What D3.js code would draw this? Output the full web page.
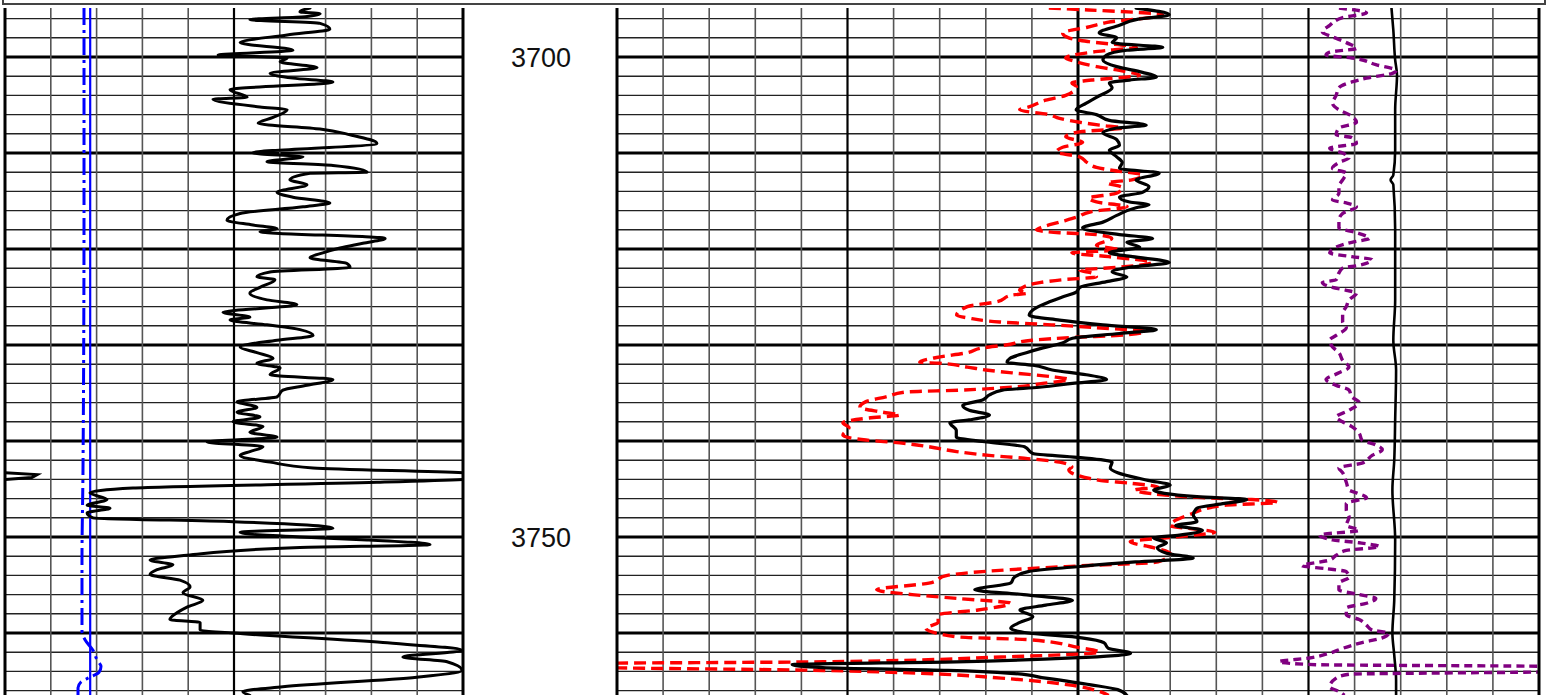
<!DOCTYPE html>
<html>
<head>
<meta charset="utf-8">
<script src="https://cdn.jsdelivr.net/npm/d3@7"></script>
<style>
  html, body { margin: 0; padding: 0; background: #fff; }
  svg { display: block; }
</style>
</head>
<body>
<svg id="log"></svg>
<script>
// Depth labels shown in the depth track
const depthLabels = [3700, 3750];

// Track 1: gamma ray (API), caliper and bit size (in)
const grDepth = [3694.9,3695.3,3695.5,3695.8,3696.1,3696.5,3697.1,3697.7,3698.5,3699.3,3699.8,3700.1,3700.5,3701.1,3701.7,3702.2,3702.6,3703.4,3704.2,3704.4,3705.2,3705.5,3706.3,3706.9,3707.5,3708.1,3709.0,3710.0,3710.4,3710.9,3711.3,3712.0,3712.1,3712.8,3713.3,3714.1,3714.6,3715.2,3715.6,3716.3,3717.0,3717.5,3717.9,3718.2,3718.9,3719.4,3719.9,3720.4,3720.9,3721.5,3721.9,3722.4,3722.9,3723.2,3724.0,3724.6,3725.3,3725.8,3726.6,3727.1,3727.4,3727.9,3728.4,3729.0,3729.5,3730.2,3730.8,3731.4,3731.9,3732.4,3733.1,3733.6,3734.2,3734.7,3735.4,3735.9,3736.5,3737.0,3737.5,3738.0,3738.5,3739.1,3739.6,3740.1,3740.6,3741.1,3741.5,3742.2,3742.8,3743.3,3743.5,3743.8,3744.0,3744.3,3744.9,3745.4,3746.1,3746.7,3747.0,3747.5,3748.0,3748.4,3749.1,3749.5,3750.0,3750.3,3750.8,3751.1,3751.9,3752.4,3752.9,3753.4,3753.9,3754.5,3755.2,3755.8,3756.6,3757.3,3757.9,3758.6,3758.9,3759.7,3760.0,3761.0,3761.8,3762.5,3763.0,3763.9,3764.6,3765.6,3766.1,3766.5];
const grValue = [99.9,96.6,103.2,98.3,80.2,103.2,106.4,92.4,77.0,94.3,69.8,92.4,90.1,102.2,86.8,94.3,107.4,73.7,79.3,68.1,83.5,92.4,87.8,82.9,103.2,113.0,121.8,81.2,97.6,85.8,107.4,118.6,99.9,93.3,98.9,89.1,94.3,106.4,97.6,77.0,72.7,81.2,89.1,83.5,124.5,117.2,109.7,104.1,99.9,112.0,113.0,86.8,82.5,88.4,83.5,80.2,85.8,95.6,71.4,80.2,73.7,85.8,96.6,100.9,89.1,77.0,82.5,87.8,82.5,90.1,86.8,107.4,98.9,91.0,89.1,76.0,82.5,76.0,83.5,74.7,84.5,80.2,89.1,66.2,84.5,80.2,77.0,86.8,100.9,150.0,160.5,158.8,150.0,121.8,41.9,27.8,33.4,26.9,34.4,26.9,28.8,74.7,107.4,77.0,96.6,118.6,139.2,96.6,59.6,47.5,55.0,49.8,47.5,57.3,60.6,58.3,64.8,59.6,56.3,54.0,63.9,63.9,74.7,123.8,149.7,130.3,144.8,149.7,134.9,91.0,77.9,80.2];

const caliDepth = [3694.9,3714.9,3743.0,3752.4,3759.9,3760.7,3761.8,3762.8,3763.5,3764.1,3764.6,3765.1,3765.7,3766.5];
const caliValue = [7.725,7.725,7.703,7.681,7.681,7.747,7.921,8.009,8.096,8.052,7.856,7.659,7.594,7.594];

const bsDepth = [3694.9, 3766.5];
const bsValue = [7.86, 7.86];

// Tracks 2-3: bulk density (g/cc), neutron porosity (v/v), sonic (us/ft), density correction
const rhobDepth = [3694.9,3695.6,3696.1,3696.7,3697.5,3698.0,3698.5,3699.0,3699.3,3699.8,3700.3,3701.0,3701.6,3702.1,3702.4,3702.7,3703.2,3704.2,3704.8,3705.5,3706.0,3706.6,3707.1,3707.4,3707.9,3708.6,3709.2,3709.7,3710.4,3711.0,3711.6,3712.1,3712.8,3713.5,3714.1,3714.6,3715.1,3715.4,3715.7,3716.5,3717.2,3717.8,3718.5,3718.9,3719.3,3719.8,3720.4,3720.8,3721.4,3721.9,3722.4,3722.9,3723.4,3724.0,3724.5,3725.0,3725.5,3726.1,3726.9,3727.4,3727.9,3728.4,3728.8,3729.3,3729.8,3730.3,3730.8,3731.4,3731.8,3732.1,3732.6,3733.1,3733.6,3734.0,3734.4,3734.7,3735.2,3735.7,3736.3,3736.8,3737.3,3737.8,3738.1,3738.9,3739.6,3740.1,3740.6,3741.3,3741.7,3742.2,3742.8,3743.3,3744.1,3744.6,3745.1,3745.8,3746.1,3746.5,3747.0,3747.7,3748.4,3748.8,3749.3,3749.8,3750.1,3750.6,3751.1,3751.7,3752.2,3752.6,3753.1,3753.6,3754.2,3754.8,3755.5,3756.0,3756.6,3757.1,3757.6,3758.3,3758.9,3759.5,3760.0,3760.5,3761.0,3761.6,3762.1,3762.6,3763.0,3763.3,3763.6,3763.9,3764.2,3764.7,3765.4,3765.9,3766.5];
const rhobValue = [2.513,2.549,2.513,2.495,2.473,2.492,2.487,2.542,2.503,2.481,2.477,2.492,2.520,2.535,2.506,2.484,2.487,2.470,2.459,2.448,2.470,2.484,2.524,2.492,2.477,2.492,2.495,2.484,2.492,2.498,2.495,2.538,2.513,2.527,2.520,2.495,2.506,2.527,2.513,2.492,2.477,2.455,2.495,2.531,2.503,2.517,2.484,2.509,2.549,2.506,2.487,2.503,2.481,2.452,2.448,2.433,2.419,2.405,2.397,2.430,2.477,2.535,2.495,2.444,2.433,2.412,2.394,2.376,2.373,2.401,2.422,2.459,2.481,2.444,2.408,2.368,2.354,2.347,2.325,2.332,2.354,2.332,2.311,2.318,2.318,2.351,2.392,2.401,2.449,2.487,2.485,2.493,2.526,2.550,2.532,2.579,2.633,2.609,2.579,2.575,2.579,2.556,2.585,2.560,2.532,2.546,2.536,2.546,2.575,2.512,2.449,2.396,2.381,2.377,2.338,2.391,2.444,2.415,2.387,2.401,2.387,2.377,2.396,2.454,2.478,2.483,2.507,2.444,2.318,2.140,2.173,2.309,2.377,2.415,2.464,2.493,2.503];

const nphiDepth = [3694.9,3695.1,3695.6,3696.4,3696.9,3697.5,3698.0,3698.4,3699.0,3699.3,3699.5,3700.1,3700.5,3701.0,3701.4,3701.9,3702.4,3702.7,3703.1,3704.0,3704.5,3705.2,3705.5,3706.0,3706.4,3706.8,3707.1,3707.4,3707.8,3708.3,3708.9,3709.4,3709.9,3710.4,3711.0,3711.5,3711.8,3712.3,3712.8,3713.1,3713.6,3714.2,3714.7,3715.1,3715.6,3716.1,3716.7,3717.2,3717.7,3718.0,3718.3,3718.5,3718.9,3719.6,3720.1,3720.4,3720.8,3721.4,3721.9,3722.2,3722.5,3722.9,3723.2,3723.5,3724.0,3724.3,3724.6,3724.8,3725.5,3726.0,3726.9,3727.2,3727.6,3727.9,3728.2,3728.6,3729.0,3729.2,3729.5,3730.0,3730.3,3730.8,3731.3,3731.8,3731.9,3732.3,3732.6,3732.9,3733.3,3733.6,3734.0,3734.4,3734.7,3734.9,3735.4,3735.9,3736.5,3737.0,3737.3,3737.6,3738.1,3738.6,3739.4,3739.9,3740.2,3740.6,3741.1,3741.5,3741.8,3742.2,3742.7,3743.0,3744.1,3744.4,3744.8,3745.1,3745.6,3745.9,3746.1,3746.4,3746.7,3747.7,3748.8,3749.5,3750.0,3750.5,3751.1,3751.7,3752.6,3753.0,3753.4,3754.0,3754.8,3755.5,3756.0,3756.4,3756.9,3757.6,3758.1,3758.9,3759.5,3760.4,3760.7,3761.5,3762.0,3762.5,3763.0,3763.2,3763.5,3763.9,3764.2,3764.7,3765.4,3766.1,3766.5];
const nphiValue = [0.169,0.143,0.095,0.131,0.144,0.160,0.156,0.143,0.112,0.130,0.141,0.158,0.151,0.138,0.123,0.110,0.141,0.154,0.151,0.158,0.171,0.182,0.188,0.169,0.162,0.149,0.136,0.121,0.149,0.158,0.147,0.160,0.164,0.149,0.144,0.138,0.128,0.108,0.115,0.131,0.121,0.125,0.143,0.138,0.118,0.141,0.151,0.162,0.173,0.177,0.162,0.138,0.128,0.138,0.123,0.154,0.130,0.102,0.123,0.149,0.141,0.138,0.160,0.175,0.186,0.188,0.183,0.193,0.203,0.222,0.229,0.221,0.201,0.167,0.138,0.106,0.123,0.151,0.180,0.197,0.212,0.222,0.242,0.253,0.240,0.222,0.210,0.193,0.167,0.156,0.173,0.193,0.227,0.262,0.275,0.288,0.292,0.277,0.266,0.286,0.303,0.299,0.303,0.288,0.266,0.247,0.229,0.208,0.185,0.162,0.154,0.156,0.136,0.116,0.098,0.113,0.095,0.069,0.037,0.020,0.055,0.078,0.090,0.061,0.087,0.116,0.101,0.090,0.098,0.148,0.194,0.235,0.247,0.281,0.258,0.229,0.194,0.215,0.241,0.241,0.249,0.229,0.182,0.150,0.136,0.200,0.316,0.487,0.487,0.316,0.252,0.200,0.156,0.136,0.130];

const dtDepth = [3694.9,3695.4,3695.9,3696.7,3697.4,3697.9,3698.5,3699.1,3699.5,3699.8,3700.1,3700.8,3701.4,3701.7,3702.2,3702.6,3703.2,3704.0,3704.8,3705.5,3706.0,3706.8,3707.4,3708.1,3708.4,3709.0,3709.5,3710.0,3710.5,3711.0,3711.6,3712.1,3712.8,3713.5,3714.2,3714.9,3715.2,3715.6,3716.3,3717.0,3717.8,3718.3,3718.9,3719.3,3719.8,3720.4,3720.8,3721.1,3721.7,3722.0,3722.5,3723.2,3723.5,3724.0,3724.3,3724.6,3725.3,3726.0,3726.7,3727.6,3728.2,3729.0,3729.5,3730.2,3730.8,3731.6,3732.3,3732.9,3733.6,3734.2,3734.7,3735.4,3736.0,3736.8,3737.5,3738.0,3738.5,3739.2,3739.9,3740.4,3740.9,3741.5,3742.3,3742.8,3743.3,3744.3,3745.1,3745.4,3745.9,3746.5,3747.2,3747.9,3748.8,3749.3,3749.8,3750.3,3750.6,3751.0,3751.4,3751.9,3752.4,3753.0,3753.3,3753.6,3754.2,3754.8,3755.5,3756.0,3756.4,3756.9,3757.4,3758.1,3758.6,3759.2,3759.7,3760.0,3760.5,3761.0,3761.6,3762.1,3762.6,3763.0,3763.3,3763.5,3764.0,3764.3,3764.7,3765.6,3766.1,3766.5];
const dtValue = [61.7,58.7,61.3,62.7,63.5,62.4,60.9,59.8,62.7,63.1,60.3,57.7,55.5,55.9,58.7,60.3,61.7,62.0,62.4,61.7,60.6,59.8,61.7,62.0,60.3,59.8,62.7,61.3,60.6,61.7,62.4,60.9,61.3,61.7,61.7,62.4,60.9,59.8,61.3,61.7,61.7,59.8,58.4,60.3,62.0,62.7,60.3,58.1,59.5,61.3,61.7,62.0,63.5,62.4,60.9,59.8,60.6,60.9,61.3,61.3,60.9,62.0,62.7,62.4,61.7,61.3,60.6,61.7,63.1,62.0,60.6,60.3,59.5,60.6,62.0,61.3,60.3,59.5,59.2,57.7,57.0,58.1,59.2,61.7,61.3,60.9,60.6,59.8,58.7,60.9,60.9,60.6,60.9,59.5,63.8,62.4,59.5,57.3,60.9,62.0,62.7,65.7,63.1,60.9,60.6,61.7,61.7,59.5,57.7,58.7,60.9,60.9,59.5,58.7,58.1,56.3,57.0,59.2,61.3,62.7,64.9,68.2,64.2,37.0,37.0,60.6,62.0,62.7,61.7,61.1];

const drhoDepth = [3694.9,3697.2,3700.3,3701.9,3705.5,3709.7,3712.3,3712.8,3713.3,3718.0,3725.3,3729.5,3732.6,3737.8,3742.0,3745.1,3750.3,3756.6,3760.0,3762.3,3764.9,3766.5];
const drhoValue = [-0.010,-0.008,-0.006,-0.004,-0.006,-0.006,-0.008,-0.011,-0.008,-0.006,-0.006,-0.008,-0.005,-0.006,-0.007,-0.009,-0.006,-0.007,-0.009,-0.007,-0.005,-0.005];

const W = 1549, H = 695;
const trackTop = 8;

const svg = d3.select("#log").attr("width", W).attr("height", H);
svg.append("rect").attr("width", W).attr("height", H).attr("fill", "#fff");

// depth axis
const y = d3.scaleLinear().domain([3700, 3750]).range([57, 537]);
const depthTop = y.invert(trackTop), depthBottom = y.invert(H);

// track positions
const t1 = [5, 463];
const t2 = [617, 1539];

const grX   = d3.scaleLinear().domain([0, 150]).range(t1);
const caliX = d3.scaleLinear().domain([6, 16]).range(t1);
const rhobX = d3.scaleLinear().domain([1.95, 2.95]).range(t2);
const nphiX = d3.scaleLinear().domain([0.45, -0.15]).range(t2);
const dtX   = d3.scaleLinear().domain([140, 40]).range(t2);
const drhoX = d3.scaleLinear().domain([-0.85, 0.15]).range(t2);

const defs = svg.append("defs");
[["clip1", t1], ["clip2", t2]].forEach(([id, r]) => {
  defs.append("clipPath").attr("id", id)
    .append("rect").attr("x", r[0]).attr("y", trackTop)
    .attr("width", r[1] - r[0]).attr("height", H - trackTop);
});

// ---- grid ----
function grid(range, ndiv) {
  const g = svg.append("g");
  const xs = d3.scaleLinear().domain([0, ndiv]).range(range);
  const mins = d3.range(Math.ceil(depthTop / 2) * 2, depthBottom, 2);
  g.selectAll("line.h").data(mins).join("line")
    .attr("x1", range[0]).attr("x2", range[1])
    .attr("y1", d => y(d)).attr("y2", d => y(d))
    .attr("stroke", d => d % 10 === 0 ? "#000" : "#222")
    .attr("stroke-width", d => d % 10 === 0 ? 3 : 1.4);
  g.selectAll("line.v").data(d3.range(1, ndiv)).join("line")
    .attr("x1", d => xs(d)).attr("x2", d => xs(d))
    .attr("y1", trackTop).attr("y2", H)
    .attr("stroke", d => d % 5 === 0 ? "#000" : "#555")
    .attr("stroke-width", d => d % 10 === 0 ? 3 : d % 5 === 0 ? 2.2 : 1.6);
}
grid(t1, 10);
grid(t2, 20);

// ---- curves ----
const zip = (ds, vs) => ds.map((d, i) => ({ d, v: vs[i] }));

function curve(clip, data, xs, color, width, dash, smooth) {
  const line = d3.line().x(p => xs(p.v)).y(p => y(p.d));
  if (smooth) line.curve(d3.curveMonotoneY);
  svg.append("path")
    .attr("clip-path", `url(#${clip})`)
    .attr("d", line(data))
    .attr("fill", "none")
    .attr("stroke", color)
    .attr("stroke-width", width)
    .attr("stroke-linejoin", "round")
    .attr("stroke-linecap", dash ? "butt" : "round")
    .attr("stroke-dasharray", dash || null);
}

const gr = zip(grDepth, grValue);
curve("clip1", zip(bsDepth, bsValue), caliX, "#0000ff", 2.2);
curve("clip1", zip(caliDepth, caliValue), caliX, "#0000ff", 3, "17,5,3,5", true);
curve("clip1", gr, grX, "#000", 3, null, true);

// GR wrap-around where it leaves the track on the right
const wrapLine = d3.line()
  .defined(p => p.v >= 149.9)
  .x(p => grX(p.v - 150)).y(p => y(p.d));
svg.append("path")
  .attr("clip-path", "url(#clip1)")
  .attr("d", wrapLine(gr))
  .attr("fill", "none").attr("stroke", "#000").attr("stroke-width", 3);

curve("clip2", zip(drhoDepth, drhoValue), drhoX, "#000", 2.6, null, true);
curve("clip2", zip(dtDepth, dtValue), dtX, "#800080", 3.4, "8,5", true);
curve("clip2", zip(nphiDepth, nphiValue), nphiX, "#ff0000", 3.4, "12,6", true);
curve("clip2", zip(rhobDepth, rhobValue), rhobX, "#000", 3.2, null, true);

// ---- track borders ----
[t1[0], t1[1], t2[0], t2[1]].forEach(x => {
  svg.append("line").attr("x1", x).attr("x2", x).attr("y1", trackTop).attr("y2", H)
    .attr("stroke", "#000").attr("stroke-width", 3);
});

// header box bottom edge
svg.append("path")
  .attr("d", `M3,0 V4 H1545 V0`)
  .attr("fill", "none").attr("stroke", "#444").attr("stroke-width", 2);

// depth labels
svg.selectAll("text.depth").data(depthLabels).join("text")
  .attr("x", (t1[1] + t2[0]) / 2 + 1)
  .attr("y", d => y(d))
  .attr("dy", "0.36em")
  .attr("text-anchor", "middle")
  .attr("font-family", "'Liberation Sans', Arial, sans-serif")
  .attr("font-size", 27)
  .attr("fill", "#111")
  .text(d => d);
</script>
</body>
</html>
